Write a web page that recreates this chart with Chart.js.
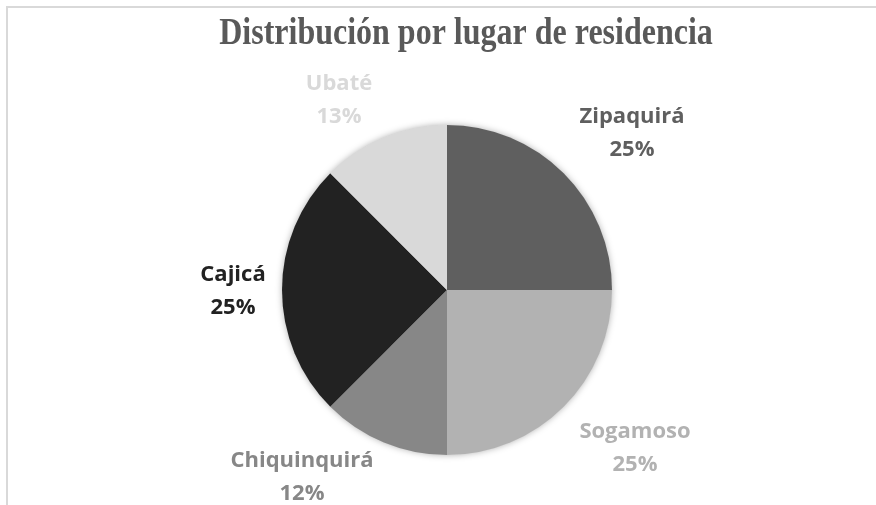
<!DOCTYPE html>
<html>
<head>
<meta charset="utf-8">
<script src="https://cdn.jsdelivr.net/npm/chart.js@4"></script>
<style>
  html, body { margin: 0; padding: 0; background: #fff; }
  canvas { display: block; }
</style>
</head>
<body>
<canvas id="chart" width="876" height="505"></canvas>
<script>
// ------------------------
// Data
// ------------------------
const chartTitle = 'Distribución por lugar de residencia'
const places = ['Zipaquirá', 'Sogamoso', 'Chiquinquirá', 'Cajicá', 'Ubaté']
const shares = [25, 25, 12.5, 25, 12.5]
const shareLabels = ['25%', '25%', '12%', '25%', '13%']
const sliceColors = ['#5f5f5f', '#b2b2b2', '#878787', '#222222', '#d9d9d9']

// label block centres, relative to the pie centre, for a radius of 165
const labelOffsets = [[185, -157], [188, 158], [-145, 187], [-214, 1], [-108, -190]]

const frame = {
  id: 'frame',
  beforeDraw(chart) {
    const { ctx } = chart
    ctx.save()
    ctx.fillStyle = '#fff'
    ctx.fillRect(0, 0, chart.width, chart.height)
    ctx.strokeStyle = '#d9d9d9'
    ctx.lineWidth = 2
    ctx.beginPath()
    ctx.moveTo(7, chart.height)
    ctx.lineTo(7, 7)
    ctx.lineTo(chart.width, 7)
    ctx.stroke()

    // the title is a little stretched upwards in the original
    ctx.fillStyle = '#595959'
    ctx.font = 'bold 32px "Liberation Serif"'
    ctx.textAlign = 'center'
    ctx.textBaseline = 'alphabetic'
    ctx.translate(466, 44)
    ctx.scale(1, 1.2)
    ctx.fillText(chartTitle, 0, 0)
    ctx.restore()
  },
  beforeDatasetsDraw(chart) {
    // soft shadow round the whole pie
    const arc = chart.getDatasetMeta(0).data[0]
    const { ctx } = chart
    ctx.save()
    ctx.shadowColor = 'rgba(0,0,0,0.35)'
    ctx.shadowBlur = 7
    ctx.fillStyle = '#fff'
    ctx.beginPath()
    ctx.arc(arc.x, arc.y, arc.outerRadius - 0.5, 0, Math.PI * 2)
    ctx.fill()
    ctx.restore()
  },
  afterDatasetsDraw(chart) {
    const { ctx } = chart
    const meta = chart.getDatasetMeta(0)
    ctx.save()
    ctx.font = 'bold 22px "Open Sans"'
    ctx.textAlign = 'center'
    ctx.textBaseline = 'middle'
    meta.data.forEach((arc, i) => {
      const k = arc.outerRadius / 165
      const x = arc.x + labelOffsets[i][0] * k
      const y = arc.y + labelOffsets[i][1] * k
      ctx.fillStyle = sliceColors[i]
      ctx.fillText(places[i], x, y - 16.5)
      ctx.fillText(shareLabels[i], x, y + 16.5)
    })
    ctx.restore()
  },
}

new Chart(document.querySelector('#chart'), {
  type: 'pie',
  data: {
    labels: places,
    datasets: [
      {
        data: shares,
        backgroundColor: sliceColors,
        borderWidth: 0,
      },
    ],
  },
  options: {
    responsive: false,
    animation: false,
    devicePixelRatio: 1,
    layout: {
      padding: { left: 282, right: 264, top: 125, bottom: 50 },
    },
    plugins: {
      legend: { display: false },
      tooltip: { enabled: false },
    },
  },
  plugins: [frame],
})
</script>
</body>
</html>
